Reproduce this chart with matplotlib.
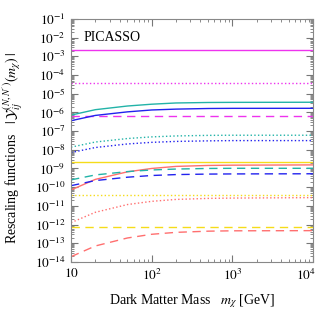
import math
import matplotlib
matplotlib.use("Agg")
import matplotlib.pyplot as plt
from matplotlib.ticker import LogLocator, FuncFormatter, NullFormatter
from matplotlib.transforms import ScaledTranslation

plt.rcParams['font.family'] = ['Liberation Serif', 'DejaVu Serif']
plt.rcParams['mathtext.fontset'] = 'stix'

mass = [10, 20, 50, 100, 200, 500, 1000, 10000]

# flat curves
magenta_solid = [2.2e-3] * 8
magenta_dotted = [3.8e-5] * 8
magenta_dashed = [6.2e-7] * 8
yellow_solid = [2.2e-9] * 8
yellow_dotted = [3.9e-11] * 8
yellow_dashed = [7.0e-13] * 8

# rising curves
teal_solid = [7.2e-7, 1.4e-6, 2.2e-6, 2.75e-6, 3.2e-6, 3.4e-6, 3.45e-6, 3.5e-6]
blue_solid = [3.6e-7, 6.9e-7, 1.07e-6, 1.35e-6, 1.5e-6, 1.62e-6, 1.65e-6, 1.66e-6]
teal_dotted = [1.38e-8, 2.6e-8, 4.0e-8, 4.9e-8, 5.5e-8, 5.9e-8, 6.0e-8, 6.0e-8]
blue_dotted = [7.1e-9, 1.32e-8, 2.05e-8, 2.5e-8, 2.8e-8, 3.0e-8, 3.1e-8, 3.1e-8]
red_solid = [7.1e-11, 2.6e-10, 6.6e-10, 1.0e-9, 1.29e-9, 1.45e-9, 1.5e-9, 1.55e-9]
teal_dashed = [2.45e-10, 4.5e-10, 6.8e-10, 8.3e-10, 9.3e-10, 1.0e-9, 1.02e-9, 1.02e-9]
blue_dashed = [1.2e-10, 2.25e-10, 3.4e-10, 4.2e-10, 4.7e-10, 5.0e-10, 5.1e-10, 5.2e-10]
red_dotted = [1.26e-12, 4.5e-12, 1.17e-11, 1.74e-11, 2.2e-11, 2.5e-11, 2.6e-11, 2.75e-11]
red_dashed = [1.9e-14, 7.1e-14, 1.9e-13, 3.0e-13, 3.8e-13, 4.4e-13, 4.6e-13, 4.7e-13]

MAG = '#ee33ee'
TEAL = '#22b3a8'
BLUE = '#2222ee'
RED = '#ff6f6f'
YEL = '#f5dc1a'

series = [
    (magenta_solid, MAG, '-'), (magenta_dotted, MAG, ':'), (magenta_dashed, MAG, (0, (6, 4))),
    (teal_solid, TEAL, '-'), (blue_solid, BLUE, '-'),
    (teal_dotted, TEAL, ':'), (blue_dotted, BLUE, ':'),
    (yellow_solid, YEL, '-'), (red_solid, RED, '-'),
    (teal_dashed, TEAL, (0, (6, 4))), (blue_dashed, BLUE, (0, (6, 4))),
    (yellow_dotted, YEL, ':'), (red_dotted, RED, ':'),
    (yellow_dashed, YEL, (0, (6, 4))), (red_dashed, RED, (0, (6, 4))),
]

fig = plt.figure(figsize=(3.2, 3.14), dpi=100)
ax = fig.add_axes([0.222, 0.166, 0.756, 0.7735])

for vals, col, ls in series:
    ax.plot(mass, vals, color=col, ls=ls, lw=1.0)

ax.set_xscale('log')
ax.set_yscale('log')
ax.set_xlim(10, 1e4)
ax.set_ylim(1e-14, 1e-1)

ax.yaxis.set_major_locator(LogLocator(base=10, numticks=20))
ax.yaxis.set_minor_locator(LogLocator(base=10, subs=range(2, 10), numticks=20))
ax.yaxis.set_minor_formatter(NullFormatter())
ax.set_xticks([10, 100, 1000, 10000])


def yfmt(v, pos):
    e = int(round(math.log10(v)))
    return r'$10^{%d}$' % e


def xfmt(v, pos):
    e = int(round(math.log10(v)))
    if e == 1:
        return r'$10$'
    return r'$10^{%d}$' % e


ax.yaxis.set_major_formatter(FuncFormatter(yfmt))
ax.xaxis.set_major_formatter(FuncFormatter(xfmt))
ax.xaxis.set_minor_formatter(NullFormatter())

ax.tick_params(which='both', direction='in', top=True, right=True, color='#777777', labelsize=9.5)
ax.tick_params(which='major', length=5, width=0.8, pad=4)
ax.tick_params(which='minor', length=2.5, width=0.6)
for s in ax.spines.values():
    s.set_color('#888888')
    s.set_linewidth(0.8)

ax.set_xlabel(r'Dark Matter Mass   $m_\chi$ [GeV]', fontsize=10)
ax.xaxis.set_label_coords(0.5, -0.125)
ax.set_ylabel(r'Rescaling functions   $|\,\mathcal{Y}_{ij}^{(N,N^\prime)}(m_\chi)\,|$', fontsize=10)
ax.yaxis.set_label_coords(-0.19, 0.47)

ax.text(0.05, 0.95, 'PICASSO', transform=ax.transAxes, ha='left', va='top', fontsize=10)

fig.canvas.draw()
lbls = ax.get_xticklabels()
last = lbls[-1]
last.set_transform(last.get_transform() + ScaledTranslation(-5 / 72, 0, fig.dpi_scale_trans))

fig.savefig('out.png', dpi=100)
